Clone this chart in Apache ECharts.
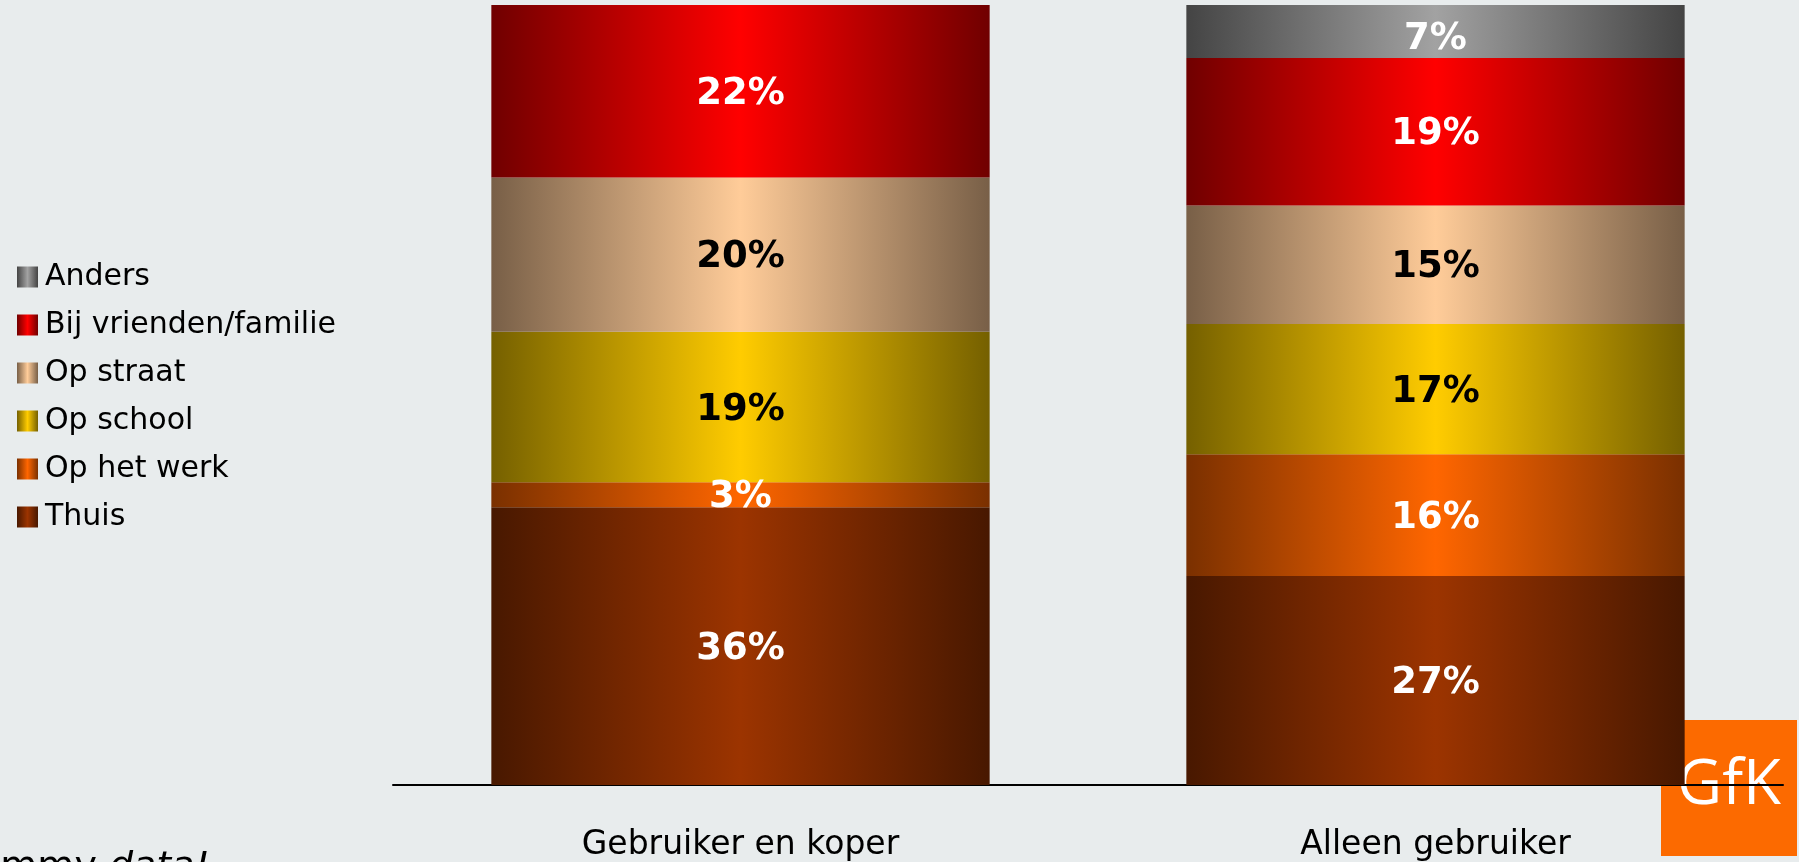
<!DOCTYPE html>
<html>
<head>
<meta charset="utf-8">
<script src="https://cdn.jsdelivr.net/npm/echarts@6/dist/echarts.min.js"></script>
<style>
html,body{margin:0;padding:0;background:#e8eced;}
#chart{width:1799px;height:862px;}
</style>
</head>
<body>
<div id="chart"></div>
<script>
// ---- data ----
const categories = ['Gebruiker en koper', 'Alleen gebruiker'];
const thuis       = [35.6, 26.8];
const opHetWerk   = [3.2, 15.6];
const opSchool    = [19.3, 16.7];
const opStraat    = [19.8, 15.2];
const bijVrienden = [22.1, 18.9];
const anders      = [null, 6.8];
const seriesNames = ['Thuis', 'Op het werk', 'Op school', 'Op straat', 'Bij vrienden/familie', 'Anders'];
const legendOrder = ['Anders', 'Bij vrienden/familie', 'Op straat', 'Op school', 'Op het werk', 'Thuis'];

// ---- styles ----
function grad(edge, center) {
  return {type: 'linear', x: 0, y: 0, x2: 1, y2: 0, colorStops: [
    {offset: 0, color: edge}, {offset: 0.5, color: center}, {offset: 1, color: edge}]};
}
const styles = {
  'Thuis': {fill: grad('#481800', '#9c3400'), label: '#ffffff', offset: [0, 3]},
  'Op het werk': {fill: grad('#7a3000', '#ff6600'), label: '#ffffff', offset: [0, 3]},
  'Op school': {fill: grad('#756000', '#ffcc00'), label: '#000000', offset: [0, 3]},
  'Op straat': {fill: grad('#785f47', '#ffcc99'), label: '#000000', offset: [0, 3]},
  'Bij vrienden/familie': {fill: grad('#700000', '#ff0000'), label: '#ffffff', offset: [0, 3]},
  'Anders': {fill: grad('#444444', '#a2a2a2'), label: '#ffffff', offset: [0, 8]}
};
const values = [thuis, opHetWerk, opSchool, opStraat, bijVrienden, anders];

const chart = echarts.init(document.getElementById('chart'), null, {renderer: 'canvas'});
const option = {
  backgroundColor: '#e8eced',
  animation: false,
  grid: {left: 393, right: 16, top: 5, bottom: 77, containLabel: false},
  legend: {
    orient: 'vertical', left: 12, top: 257,
    data: legendOrder,
    icon: 'rect', itemWidth: 21, itemHeight: 21, itemGap: 18,
    textStyle: {fontFamily: 'DejaVu Sans', fontSize: 30, color: '#000', lineHeight: 30, padding: [0, 0, 0, 2]},
    selectedMode: false
  },
  xAxis: {
    type: 'category', data: categories,
    axisLine: {show: true, lineStyle: {color: '#000', width: 2}},
    axisTick: {show: false},
    axisLabel: {fontFamily: 'DejaVu Sans', fontSize: 33, color: '#000', margin: 44}
  },
  yAxis: {type: 'value', min: 0, max: 100, show: false, splitLine: {show: false}},
  graphic: [
    {type: 'rect', z: -1, shape: {x: 1661, y: 720, width: 136, height: 136}, style: {fill: '#fc6a00'}},
    {type: 'text', z: -1, x: 1729, y: 786, style: {text: 'GfK', fill: '#ffffff', font: '62px "Open Sans"', textAlign: 'center', textVerticalAlign: 'middle'}},
    {type: 'text', z: -1, x: -53, y: 868, style: {
      text: '{n|Dummy }{i|data!}', textVerticalAlign: 'middle', fill: '#000',
      rich: {n: {fontFamily: 'DejaVu Sans', fontSize: 38, fill: '#000'}, i: {fontFamily: 'DejaVu Sans', fontStyle: 'italic', fontSize: 38, fill: '#000'}}
    }}
  ],
  series: seriesNames.map((name, i) => ({
    name: name, type: 'bar', stack: 'total', barWidth: '71.7%',
    data: values[i],
    itemStyle: {color: styles[name].fill},
    label: {
      show: true, position: 'inside', color: styles[name].label, offset: styles[name].offset,
      fontFamily: 'DejaVu Sans', fontWeight: 'bold', fontSize: 37,
      formatter: p => (p.value == null ? '' : Math.round(p.value) + '%')
    }
  }))
};
chart.setOption(option);
</script>
</body>
</html>
